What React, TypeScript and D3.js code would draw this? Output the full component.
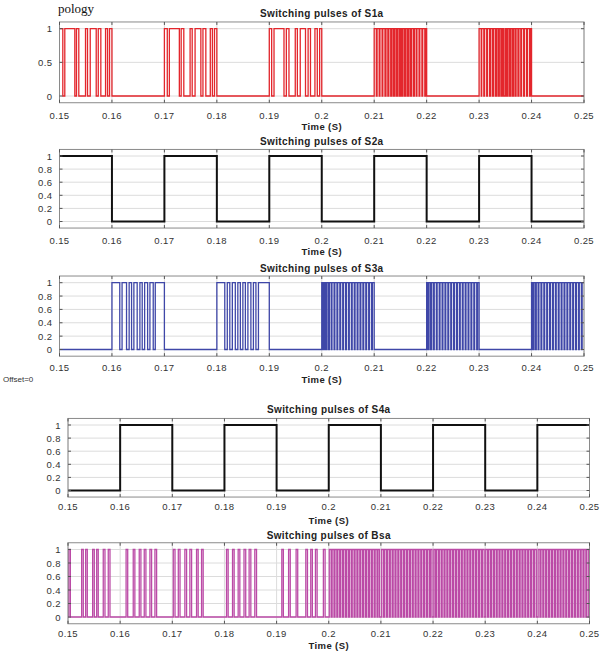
import * as d3 from "d3";

// time axis (seconds) and tick values
const xTicks = [0.15, 0.16, 0.17, 0.18, 0.19, 0.2, 0.21, 0.22, 0.23, 0.24, 0.25];
const yTicksS1a = [0, 0.5, 1];
const yTicksOther = [0, 0.2, 0.4, 0.6, 0.8, 1];

// pulses as [rise, fall] in ms, signal is 0 elsewhere
const s1aPulses: [number, number][] = [
  [150.0, 150.63], [151.01, 152.92], [153.24, 153.68], [154.96, 155.34], [155.86, 157.0], [157.39, 157.88], [158.78, 159.16], [159.54, 160.0],
  [170.0, 170.55], [170.95, 172.85], [173.2, 173.7], [174.9, 175.3], [175.85, 176.95], [177.35, 177.9], [178.75, 179.15], [179.55, 180.0],
  [190.0, 190.45], [190.9, 192.8], [193.25, 193.75], [194.95, 195.35], [195.9, 196.9], [197.4, 197.85], [198.7, 199.15], [199.6, 200.0],
  [210.0, 210.4], [210.55, 210.95], [211.1, 211.5], [211.65, 212.05], [212.25, 212.6], [212.8, 213.15], [213.35, 213.65], [213.9, 214.2],
  [214.45, 214.75], [215.0, 215.25], [215.5, 215.8], [216.05, 216.35], [216.6, 216.9], [217.1, 217.45], [217.65, 218.0], [218.15, 218.55],
  [218.7, 219.1], [219.25, 219.65], [219.8, 220.0],
  [230.0, 230.4], [230.5, 230.9], [231.05, 231.45], [231.6, 232.0], [232.2, 232.55], [232.75, 233.1], [233.3, 233.6], [233.85, 234.15],
  [234.4, 234.65], [234.95, 235.2], [235.45, 235.75], [236.0, 236.3], [236.55, 236.85], [237.05, 237.4], [237.6, 237.95], [238.1, 238.5],
  [238.65, 239.05], [239.2, 239.6], [239.75, 240.0],
];

const s2aPulses: [number, number][] = [
  [150, 160], [170, 180], [190, 200], [210, 220], [230, 240],
];

const s3aPulses: [number, number][] = [
  [160.0, 161.49], [161.93, 162.78], [163.28, 163.74], [164.18, 164.81], [165.33, 165.77], [166.23, 166.8], [167.24, 167.87], [168.26, 170.0],
  [180.0, 181.51], [181.99, 182.47], [182.95, 183.52], [184.0, 184.48], [184.96, 185.44], [185.92, 186.49], [186.97, 187.45], [187.93, 190.0],
  [200.0, 200.2], [200.45, 200.7], [200.95, 201.25], [201.45, 201.8], [201.95, 202.35], [202.5, 202.9], [203.05, 203.45], [203.6, 204.0],
  [204.15, 204.55], [204.7, 205.1], [205.25, 205.65], [205.8, 206.2], [206.35, 206.75], [206.9, 207.3], [207.45, 207.85], [208.0, 208.4],
  [208.55, 208.95], [209.1, 209.5], [209.65, 210.0],
  [220.0, 220.25], [220.45, 220.75], [220.95, 221.3], [221.45, 221.85], [222.0, 222.4], [222.55, 222.95], [223.1, 223.5], [223.65, 224.05],
  [224.2, 224.6], [224.75, 225.15], [225.3, 225.7], [225.85, 226.25], [226.4, 226.8], [226.95, 227.35], [227.5, 227.9], [228.05, 228.45],
  [228.6, 229.0], [229.15, 229.55], [229.7, 230.0],
  [240.0, 240.2], [240.4, 240.7], [240.9, 241.25], [241.4, 241.8], [241.95, 242.35], [242.5, 242.9], [243.05, 243.45], [243.6, 244.0],
  [244.15, 244.55], [244.7, 245.1], [245.25, 245.65], [245.8, 246.2], [246.35, 246.75], [246.9, 247.3], [247.45, 247.85], [248.0, 248.4],
  [248.55, 248.95], [249.1, 249.5], [249.65, 250.0],
];

const s4aPulses: [number, number][] = [
  [160, 170], [180, 190], [200, 210], [220, 230], [240, 250],
];

const bsaPulses: [number, number][] = [
  [150.15, 150.45], [152.62, 152.93], [153.39, 153.7], [154.73, 155.04], [155.5, 155.8], [156.76, 157.09], [157.72, 158.05],
  [161.14, 161.45], [162.51, 162.82], [163.66, 163.98], [164.62, 164.94], [165.71, 166.03], [166.67, 166.99],
  [170.19, 170.52], [171.15, 171.48], [172.41, 172.74], [173.37, 173.7], [174.65, 174.96], [175.61, 175.92],
  [180.4, 180.71], [181.55, 181.86], [182.63, 182.95], [183.75, 184.08], [184.73, 185.06], [185.82, 186.15],
  [191.0, 191.3], [192.3, 192.62], [193.74, 194.05], [195.6, 195.92], [196.55, 196.86], [197.45, 197.77], [198.97, 199.3],
  [200.1, 200.45], [200.65, 201.0], [201.2, 201.55], [201.75, 202.1], [202.3, 202.65], [202.85, 203.2], [203.4, 203.75], [203.95, 204.3],
  [204.5, 204.85], [205.05, 205.4], [205.6, 205.95], [206.15, 206.5], [206.7, 207.05], [207.25, 207.6], [207.8, 208.15], [208.35, 208.7],
  [208.9, 209.25], [209.45, 209.75],
  [210.15, 210.5], [210.7, 211.05], [211.25, 211.6], [211.8, 212.15], [212.35, 212.7], [212.9, 213.25], [213.45, 213.8], [214.0, 214.35],
  [214.55, 214.9], [215.1, 215.45], [215.65, 216.0], [216.2, 216.55], [216.75, 217.1], [217.3, 217.65], [217.85, 218.2], [218.4, 218.75],
  [218.95, 219.3], [219.5, 219.8],
  [220.15, 220.45], [220.65, 221.0], [221.2, 221.55], [221.75, 222.1], [222.3, 222.65], [222.85, 223.2], [223.4, 223.75], [223.95, 224.3],
  [224.5, 224.85], [225.05, 225.4], [225.6, 225.95], [226.15, 226.5], [226.7, 227.05], [227.25, 227.6], [227.8, 228.15], [228.35, 228.7],
  [228.9, 229.25], [229.45, 229.8],
  [230.1, 230.45], [230.65, 231.0], [231.2, 231.55], [231.75, 232.1], [232.3, 232.65], [232.85, 233.2], [233.4, 233.75], [233.95, 234.3],
  [234.5, 234.85], [235.05, 235.4], [235.6, 235.95], [236.15, 236.5], [236.7, 237.05], [237.25, 237.6], [237.8, 238.15], [238.35, 238.7],
  [238.9, 239.25], [239.45, 239.8],
  [240.15, 240.5], [240.7, 241.05], [241.25, 241.6], [241.8, 242.15], [242.35, 242.7], [242.9, 243.25], [243.45, 243.8], [244.0, 244.35],
  [244.55, 244.9], [245.1, 245.45], [245.65, 246.0], [246.2, 246.55], [246.75, 247.1], [247.3, 247.65], [247.85, 248.2], [248.4, 248.75],
  [248.95, 249.3], [249.5, 249.85],
];

const T_START = 150;
const T_END = 250;
const FONT = "'Liberation Sans', Arial, sans-serif";

type PanelCfg = {
  id: string;
  title: string;
  pulses: [number, number][];
  color: string;
  lw: number;
  yTicks: number[];
  x0: number;
  x1: number;
  yOne: number;
  yZero: number;
  titleY: number;
  tickY: number;
  labelY: number;
};

const panels: PanelCfg[] = [
  { id: "s1a", title: "Switching pulses of S1a", pulses: s1aPulses, color: "#e3262c", lw: 1.3, yTicks: yTicksS1a,
    x0: 59.5, x1: 584, yOne: 28.7, yZero: 96, titleY: 13.5, tickY: 115, labelY: 126.5 },
  { id: "s2a", title: "Switching pulses of S2a", pulses: s2aPulses, color: "#111111", lw: 2, yTicks: yTicksOther,
    x0: 59.5, x1: 584, yOne: 156, yZero: 221.5, titleY: 141, tickY: 240, labelY: 251.5 },
  { id: "s3a", title: "Switching pulses of S3a", pulses: s3aPulses, color: "#3f47a8", lw: 1.3, yTicks: yTicksOther,
    x0: 59.5, x1: 584, yOne: 282.7, yZero: 349.5, titleY: 268, tickY: 367, labelY: 379 },
  { id: "s4a", title: "Switching pulses of S4a", pulses: s4aPulses, color: "#111111", lw: 2, yTicks: yTicksOther,
    x0: 68, x1: 589.5, yOne: 425, yZero: 490.5, titleY: 409, tickY: 506.5, labelY: 520 },
  { id: "bsa", title: "Switching pulses of Bsa", pulses: bsaPulses, color: "#bb4aa6", lw: 1.3, yTicks: yTicksOther,
    x0: 68, x1: 589.5, yOne: 549.5, yZero: 617, titleY: 535.5, tickY: 633, labelY: 645 },
];

function Panel({ p }: { p: PanelCfg }) {
  const x = d3.scaleLinear().domain([T_START / 1000, T_END / 1000]).range([p.x0, p.x1]);
  const y = d3.scaleLinear().domain([0, 1]).range([p.yZero, p.yOne]);
  const top = y(1.1);
  const bottom = y(-0.1);

  const pts: [number, number][] = [];
  if (p.pulses[0][0] > T_START) pts.push([T_START, 0]);
  p.pulses.forEach(([r, f]) => {
    if (r > T_START) pts.push([r, 0]);
    pts.push([r, 1]);
    pts.push([f, 1]);
    if (f < T_END) pts.push([f, 0]);
  });
  if (p.pulses[p.pulses.length - 1][1] < T_END) pts.push([T_END, 0]);

  const line = d3
    .line<[number, number]>()
    .x((d) => x(d[0] / 1000))
    .y((d) => y(d[1]));

  const cx = (p.x0 + p.x1) / 2;
  const fmt = (v: number) => String(+v.toFixed(2));

  return (
    <g>
      <rect x={p.x0} y={top} width={p.x1 - p.x0} height={bottom - top} fill="#fff" />
      <clipPath id={`clip-${p.id}`}>
        <rect x={p.x0} y={top} width={p.x1 - p.x0} height={bottom - top} />
      </clipPath>
      {/* grid */}
      {xTicks.map((t) => (
        <line key={`gx${t}`} x1={x(t)} x2={x(t)} y1={top} y2={bottom} stroke="#dcdcdc" strokeWidth={1} />
      ))}
      {p.yTicks.map((t) => (
        <line key={`gy${t}`} x1={p.x0} x2={p.x1} y1={y(t)} y2={y(t)} stroke="#dcdcdc" strokeWidth={1} />
      ))}
      <path d={line(pts) ?? ""} fill="none" stroke={p.color} strokeWidth={p.lw} clipPath={`url(#clip-${p.id})`} />
      {/* box and ticks */}
      <rect x={p.x0} y={top} width={p.x1 - p.x0} height={bottom - top} fill="none" stroke="#8a8a8a" strokeWidth={1} />
      {xTicks.map((t) => (
        <g key={`tx${t}`}>
          <line x1={x(t)} x2={x(t)} y1={bottom} y2={bottom - 3} stroke="#555" />
          <line x1={x(t)} x2={x(t)} y1={top} y2={top + 3} stroke="#555" />
          <text x={x(t)} y={p.tickY} textAnchor="middle" dominantBaseline="central" fontSize={9.5} fill="#333" letterSpacing={0.4} fontFamily={FONT}>
            {fmt(t)}
          </text>
        </g>
      ))}
      {p.yTicks.map((t) => (
        <g key={`ty${t}`}>
          <line x1={p.x0} x2={p.x0 + 3} y1={y(t)} y2={y(t)} stroke="#555" />
          <line x1={p.x1} x2={p.x1 - 3} y1={y(t)} y2={y(t)} stroke="#555" />
          <text x={p.x0 - 7} y={y(t)} textAnchor="end" dominantBaseline="central" fontSize={9.5} fill="#333" letterSpacing={0.4} fontFamily={FONT}>
            {fmt(t)}
          </text>
        </g>
      ))}
      <text x={cx} y={p.titleY} textAnchor="middle" dominantBaseline="central" fontSize={10} fontWeight="bold" fill="#222" letterSpacing={0.4} fontFamily={FONT}>
        {p.title}
      </text>
      <text x={cx} y={p.labelY} textAnchor="middle" dominantBaseline="central" fontSize={9.5} fontWeight="bold" fill="#222" letterSpacing={0.4} fontFamily={FONT}>
        Time (S)
      </text>
    </g>
  );
}

export default function App() {
  return (
    <div style={{ position: "absolute", left: 0, top: 0 }}>
      <svg width={605} height={651} viewBox="0 0 605 651" style={{ display: "block", background: "#fff" }}>
        <text x={58} y={13} fontSize={13} fontFamily="'Liberation Serif', 'Times New Roman', serif" fill="#111">
          pology
        </text>
        {panels.map((p) => (
          <Panel key={p.id} p={p} />
        ))}
        <text x={3} y={379} dominantBaseline="central" fontSize={8} fill="#333" fontFamily={FONT}>
          Offset=0
        </text>
      </svg>
    </div>
  );
}
